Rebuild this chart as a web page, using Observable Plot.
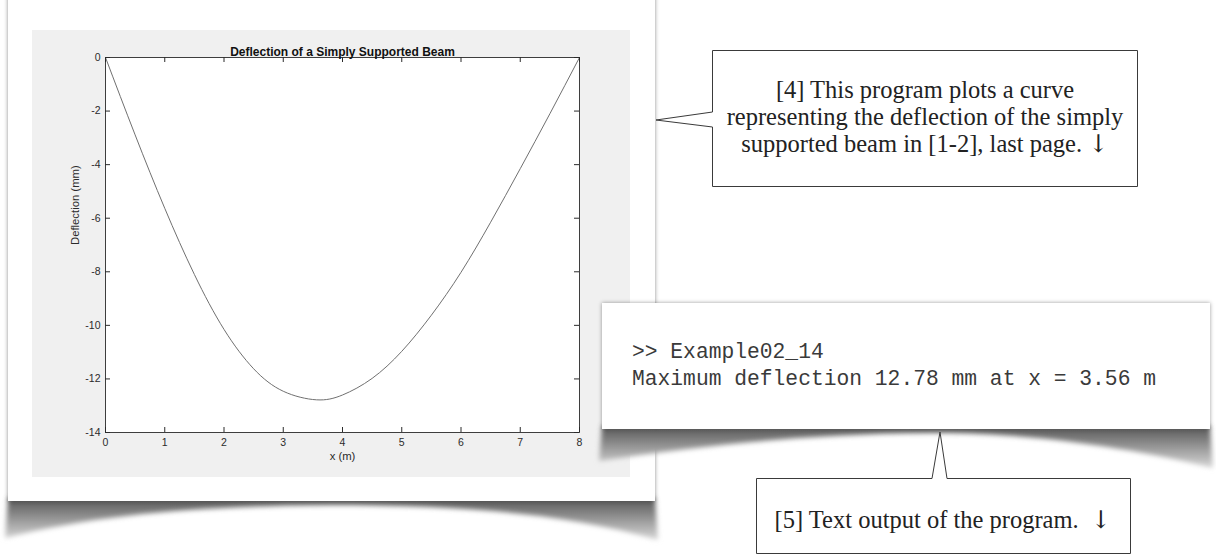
<!DOCTYPE html>
<html><head><meta charset="utf-8">
<script src="https://cdn.jsdelivr.net/npm/d3@7"></script>
<script src="https://cdn.jsdelivr.net/npm/@observablehq/plot@0.6"></script>
<style>
html,body{margin:0;padding:0;background:#fff;}
#page{position:relative;width:1216px;height:554px;overflow:hidden;background:#fff;}
.abs{position:absolute;}
#panelL{left:8px;top:-10px;width:647px;height:511px;background:#fff;box-shadow:0 0 4px rgba(0,0,0,0.45);z-index:2;}
#chart{left:32px;top:30px;z-index:3;}
#panelR{left:602px;top:303px;width:608px;height:126px;background:#fff;box-shadow:0 0 4px rgba(0,0,0,0.4);z-index:5;}
svg.layer{position:absolute;left:0;top:0;}
</style></head><body><div id="page">
<svg class="layer" width="1216" height="554" style="z-index:1">
  <defs>
    <linearGradient id="sg" x1="0" y1="0" x2="0" y2="1">
      <stop offset="0" stop-color="#555"/><stop offset="1" stop-color="#d8d8d8"/>
    </linearGradient>
    <filter id="blur" x="-5%" y="-50%" width="110%" height="200%"><feGaussianBlur stdDeviation="2.5"/></filter>
  </defs>
  <path d="M8,498 L655,498 L658,540 C560,512 450,505 330,505 C200,506 100,514 5,538 Z" fill="url(#sg)" filter="url(#blur)"/>
</svg>
<div id="panelL" class="abs"></div>
<div id="chart" class="abs"></div>
<svg class="layer" width="1216" height="554" style="z-index:4">
  <defs>
    <linearGradient id="sg2" x1="0" y1="0" x2="0" y2="1">
      <stop offset="0" stop-color="#555"/><stop offset="1" stop-color="#d8d8d8"/>
    </linearGradient>
    <filter id="blur2" x="-5%" y="-50%" width="110%" height="200%"><feGaussianBlur stdDeviation="2.5"/></filter>
  </defs>
  <path d="M602,426 L1210,426 L1213,468 C1100,441 1000,432 930,433 C800,434 700,446 599,461 Z" fill="url(#sg2)" filter="url(#blur2)"/>
</svg>
<div id="panelR" class="abs"></div>
<svg class="layer" width="1216" height="554" style="z-index:6">
  <g font-family="'Liberation Mono', 'Courier New', monospace" font-size="21.3" fill="#3a3a3a" style="white-space:pre">
    <text x="632" y="358">&gt;&gt; Example02_14</text>
    <text x="632" y="384.5">Maximum deflection 12.78 mm at x = 3.56 m</text>
  </g>
  <path d="M712.5,50.5 H1137.5 V186.5 H712.5 V127 L656,120 L712.5,112 Z" fill="#fff" stroke="#3a3a3a" stroke-width="1"/>
  <g font-family="'Liberation Serif', 'Times New Roman', serif" font-size="24.5" fill="#222" text-anchor="middle" style="white-space:pre">
    <text x="925" y="98">[4] This program plots a curve</text>
    <text x="925" y="125">representing the deflection of the simply</text>
    <text x="925" y="152">supported beam in [1-2], last page.  <tspan font-family="'DejaVu Serif', serif" fill="#222">↓</tspan></text>
  </g>
  <path d="M756.5,478.5 H932 L940,432 L947,478.5 H1130.5 V553.5 H756.5 Z" fill="#fff" stroke="#3a3a3a" stroke-width="1"/>
  <text x="943" y="528" font-family="'Liberation Serif', 'Times New Roman', serif" font-size="24.5" fill="#222" text-anchor="middle" style="white-space:pre">[5] Text output of the program.  <tspan font-family="'DejaVu Serif', serif" fill="#222">↓</tspan></text>
</svg>
</div>
<script>
const xTicks = [0, 1, 2, 3, 4, 5, 6, 7, 8];
const yTicks = [0, -2, -4, -6, -8, -10, -12, -14];
const xPos = [0, 0.5, 1.0, 1.5, 2.0, 2.5, 3.0, 3.56, 4.0, 4.5, 5.0, 5.5, 6.0, 6.5, 7.0, 7.5, 8.0];
const deflection = [0, -2.89, -5.63, -8.1, -10.15, -11.62, -12.46, -12.78, -12.6, -11.98, -10.97, -9.62, -8.02, -6.15, -4.15, -2.1, 0];
const title = "Deflection of a Simply Supported Beam";
const xLabel = "x (m)";
const yLabel = "Deflection (mm)";

const data = xPos.map((x, i) => ({x, y: deflection[i]}));
const W = 598, H = 447, mL = 73, mR = 51, mT = 27, mB = 45;
const fw = W - mL - mR, fh = H - mT - mB;
const ink = "#2b2b2b";

const chart = Plot.plot({
  width: W, height: H,
  marginLeft: mL, marginRight: mR, marginTop: mT, marginBottom: mB,
  style: {background: "#f0f0f0", fontFamily: "'Liberation Sans', Arial, sans-serif", fontSize: "10.5px", color: ink, overflow: "visible"},
  x: {domain: [0, 8]},
  y: {domain: [-14, 0]},
  marks: [
    Plot.frame({fill: "white", stroke: "none"}),
    Plot.line(data, {x: "x", y: "y", stroke: "#707070", strokeWidth: 1, curve: "natural"}),
    Plot.tickX(xTicks, {x: d => d, stroke: ink, insetTop: fh - 5}),
    Plot.tickX(xTicks, {x: d => d, stroke: ink, insetBottom: fh - 5}),
    Plot.tickY(yTicks, {y: d => d, stroke: ink, insetRight: fw - 5}),
    Plot.tickY(yTicks, {y: d => d, stroke: ink, insetLeft: fw - 5}),
    Plot.frame({stroke: ink, strokeWidth: 0.9}),
    Plot.axisX({ticks: xTicks, tickSize: 0, tickPadding: 6, tickFormat: d => String(d), label: null, fill: ink}),
    Plot.axisY({ticks: yTicks, tickSize: 0, tickPadding: 5, tickFormat: d => String(d), label: null, fill: ink}),
    Plot.text([title], {text: d => d, frameAnchor: "top", dy: -10, fontWeight: "bold", fontSize: 12, fill: "#111"}),
    Plot.text([xLabel], {text: d => d, frameAnchor: "bottom", dy: 27, fontSize: 11.3, fill: ink}),
    Plot.text([yLabel], {text: d => d, frameAnchor: "left", dx: -30, rotate: -90, fontSize: 11.3, fill: ink})
  ]
});
document.getElementById("chart").appendChild(chart);
</script>
</body></html>
